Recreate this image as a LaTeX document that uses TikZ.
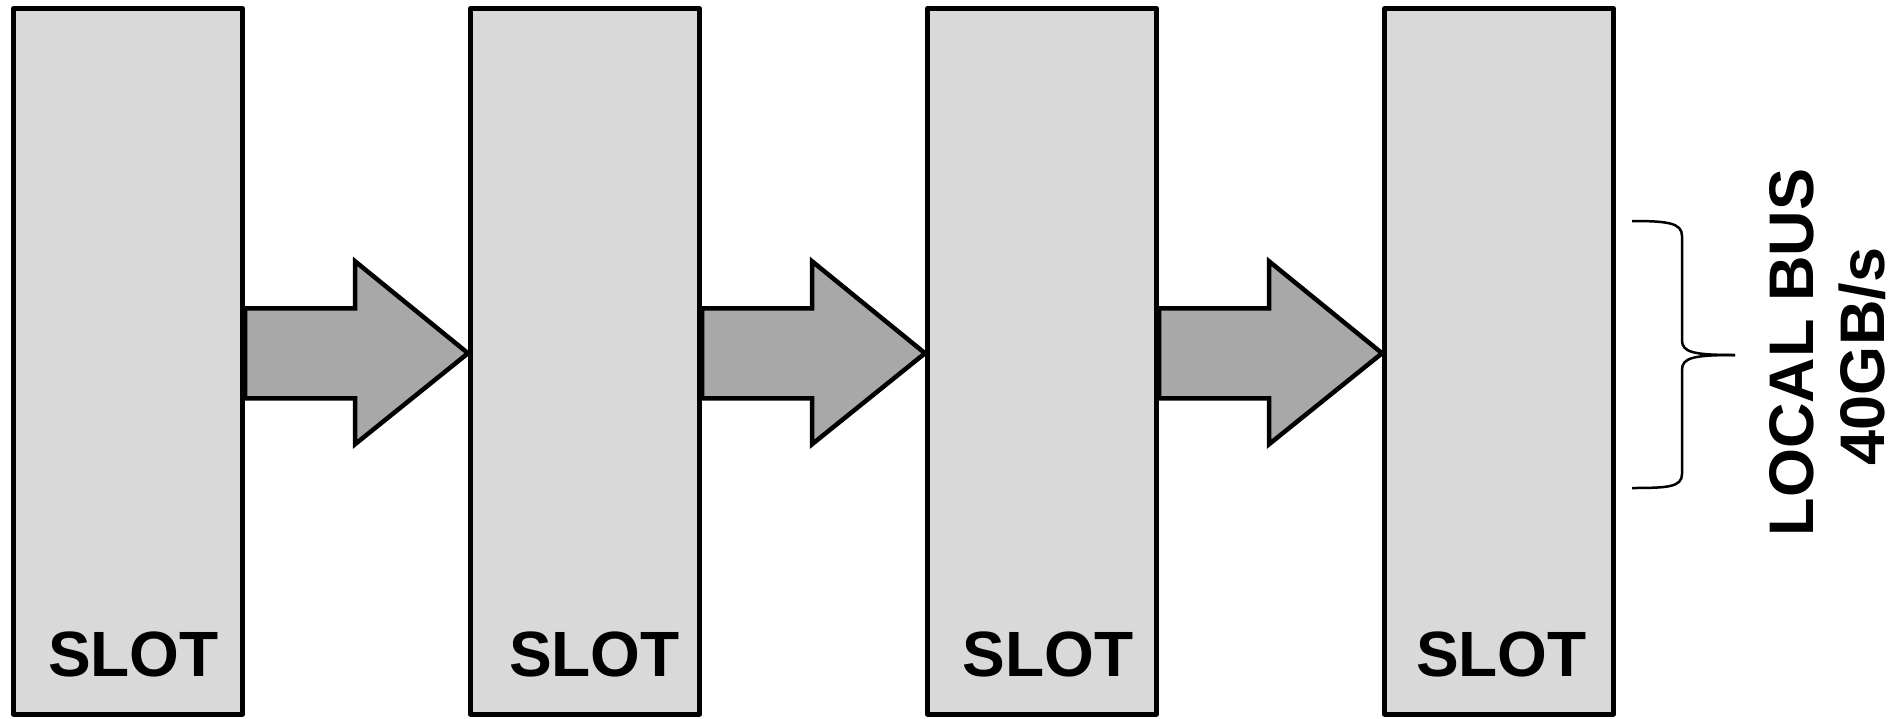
\documentclass[tikz,border=0pt]{standalone}
\usepackage{fontspec}
\setmainfont{Liberation Sans}
\usetikzlibrary{calc}
\definecolor{boxfill}{HTML}{D9D9D9}
\definecolor{arrowfill}{HTML}{A8A8A8}
\tikzset{
  slotbox/.style={draw=black, line width=5pt, fill=boxfill, rectangle, minimum width=229pt, minimum height=705.5pt, inner sep=0pt, line join=round},
  bigarrow/.style={draw=black, line width=4.5pt, fill=arrowfill, line join=miter},
  slotlabel/.style={font=\bfseries\fontsize{64}{70}\selectfont, anchor=base, inner sep=0pt},
  buslabel/.style={font=\bfseries\fontsize{63}{68}\selectfont, anchor=base, rotate=90, inner sep=0pt},
  bracestyle/.style={draw=black, line width=2.5pt}
}
\begin{document}
\begin{tikzpicture}[x=1pt,y=-1pt]
\useasboundingbox (0,0) rectangle (1898,718);
\node[slotbox] (b1) at (128,361.25) {};
\node[slotbox] (b2) at (585,361.25) {};
\node[slotbox] (b3) at (1042,361.25) {};
\node[slotbox] (b4) at (1499,361.25) {};
\foreach \i/\j in {1/2,2/3,3/4}{
  \draw[bigarrow] ($(b\i.east)+(0,-53)$) -- ($(b\j.west)+(-113,-53)$) -- ($(b\j.west)+(-113,-100)$)
    -- ($(b\j.west)+(0,-8)$) -- ($(b\j.west)+(-113,83)$) -- ($(b\j.west)+(-113,37)$)
    -- ($(b\i.east)+(0,37)$) -- cycle;
}
\node[slotlabel] (s1) at (133.5,676.7) {SLOT};
\node[slotlabel] (s2) at (594.5,676.7) {SLOT};
\node[slotlabel] (s3) at (1048,676.7) {SLOT};
\node[slotlabel] (s4) at (1501.5,676.7) {SLOT};
\coordinate (bt) at (1632,221);
\coordinate (bm) at (1735,355);
\coordinate (bb) at (1632,488);
\draw[bracestyle] (bt) .. controls (1668,221) and (1682,223) .. (1682,236) -- (1682,340)
  .. controls (1682,352) and (1692,355) .. (bm);
\draw[bracestyle] (bm) .. controls (1692,355) and (1682,358) .. (1682,370) -- (1682,474)
  .. controls (1682,487) and (1668,488) .. (bb);
\node[buslabel] (l1) at (1813,352.5) {LOCAL BUS};
\node[buslabel] (l2) at (1884,356.5) {40GB/s};
\end{tikzpicture}
\end{document}
